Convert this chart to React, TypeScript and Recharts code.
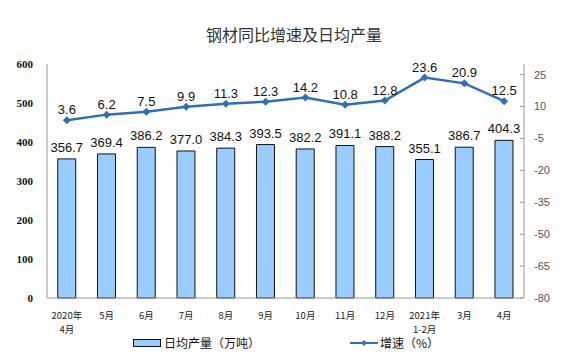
import React from 'react'
import { ComposedChart, Bar, Line, XAxis, YAxis, LabelList } from 'recharts'

const months = ['2020年\n4月', '5月', '6月', '7月', '8月', '9月', '10月', '11月', '12月', '2021年\n1-2月', '3月', '4月']
const dailyOutput = [356.7, 369.4, 386.2, 377.0, 384.3, 393.5, 382.2, 391.1, 388.2, 355.1, 386.7, 404.3]
const growth = [3.6, 6.2, 7.5, 9.9, 11.3, 12.3, 14.2, 10.8, 12.8, 23.6, 20.9, 12.5]
const leftTicks = [0, 100, 200, 300, 400, 500, 600]
const rightTicks = [-80, -65, -50, -35, -20, -5, 10, 25]
// category boundaries, used only for the little tick marks under the x axis
const boundaries = months.map((_, i) => i).concat(months.length)

const data = months.map((m, i) => ({ month: m, output: dailyOutput[i], growth: growth[i] }))

const CJK = '"Noto Sans CJK SC", "Noto Sans", sans-serif'
const SANS = '"Liberation Sans", Arial, sans-serif'
const LINE = '#2F6FBA'

function MonthTick({ x, y, payload }: any) {
  const lines = String(payload.value).split('\n')
  return (
    <g>
      {lines.map((l, i) => (
        <text key={i} x={x} y={y + 13 + i * 14} textAnchor="middle" fontSize={9.5} fill="#222" fontFamily={CJK}>
          {l}
        </text>
      ))}
    </g>
  )
}

function Diamond({ cx, cy }: any) {
  if (cx == null || cy == null) return null
  const r = 4
  return <path d={`M${cx},${cy - r}L${cx + r},${cy}L${cx},${cy + r}L${cx - r},${cy}Z`} fill={LINE} />
}

export default function App() {
  return (
    <div style={{ position: 'absolute', left: 0, top: 0, width: 576, height: 357, background: '#fff' }}>
      <div
        style={{
          position: 'absolute', left: 0, width: 576, top: 22, textAlign: 'center',
          fontFamily: CJK, fontSize: 16, color: '#333', paddingLeft: 6,
        }}
      >
        钢材同比增速及日均产量
      </div>
      <ComposedChart width={576} height={357} data={data} margin={{ top: 64, right: 0, bottom: 0, left: 0 }} barCategoryGap="27%">
        <XAxis
          xAxisId="marks"
          type="number"
          domain={[0, months.length]}
          ticks={boundaries}
          tick={false}
          tickSize={3}
          tickLine={{ stroke: '#999' }}
          axisLine={false}
          height={0}
        />
        <XAxis
          dataKey="month"
          interval={0}
          tick={<MonthTick />}
          tickLine={false}
          axisLine={{ stroke: '#999' }}
          height={59}
        />
        <YAxis
          yAxisId="left"
          domain={[0, 600]}
          ticks={leftTicks}
          width={47}
          tick={{ fontSize: 11, fill: '#111', fontFamily: '"Liberation Serif", serif', fontWeight: 'bold' }}
          tickLine={false}
          axisLine={{ stroke: '#999' }}
          tickMargin={8}
        />
        <YAxis
          yAxisId="right"
          orientation="right"
          domain={[-80, 30]}
          ticks={rightTicks}
          width={52}
          tick={{ fontSize: 11, fill: '#555', fontFamily: SANS }}
          tickLine={{ stroke: '#999' }}
          tickSize={-4}
          tickMargin={14}
          axisLine={{ stroke: '#999' }}
        />
        <Bar yAxisId="left" dataKey="output" fill="#99CCFF" stroke="#111" strokeWidth={1} isAnimationActive={false}>
          <LabelList
            dataKey="output"
            position="top"
            offset={7}
            formatter={(v: any) => Number(v).toFixed(1)}
            style={{ fontSize: 13, fill: '#111', fontFamily: SANS }}
          />
        </Bar>
        <Line
          yAxisId="right"
          dataKey="growth"
          stroke={LINE}
          strokeWidth={2.5}
          dot={<Diamond />}
          activeDot={false}
          isAnimationActive={false}
        >
          <LabelList
            dataKey="growth"
            position="top"
            offset={6}
            formatter={(v: any) => Number(v).toFixed(1)}
            style={{ fontSize: 13, fill: '#111', fontFamily: SANS }}
          />
        </Line>
      </ComposedChart>
      <div style={{ position: 'absolute', left: 133, top: 336, height: 14, lineHeight: '14px', display: 'flex', alignItems: 'center', fontFamily: CJK, fontSize: 12, color: '#111' }}>
        <span style={{ display: 'inline-block', width: 26, height: 6, background: '#99CCFF', border: '1.5px solid #111', marginRight: 3 }} />
        日均产量（万吨）
      </div>
      <div style={{ position: 'absolute', left: 350, top: 336, height: 14, lineHeight: '14px', display: 'flex', alignItems: 'center', fontFamily: CJK, fontSize: 12, color: '#111' }}>
        <svg width={28} height={10} style={{ marginRight: 2 }}>
          <line x1={0} y1={5} x2={28} y2={5} stroke={LINE} strokeWidth={2} />
          <path d="M14,2L17,5L14,8L11,5Z" fill={LINE} />
        </svg>
        增速（%）
      </div>
    </div>
  )
}
